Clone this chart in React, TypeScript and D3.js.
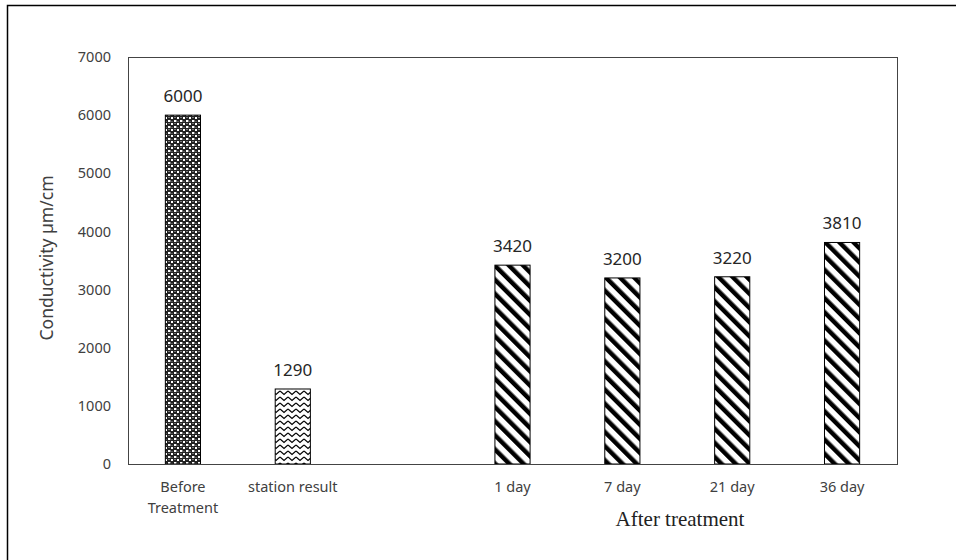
import React from "react";
import * as d3 from "d3";

const categories = ["Before\nTreatment", "station result", "", "1 day", "7 day", "21 day", "36 day"];
const values: (number | null)[] = [6000, 1290, null, 3420, 3200, 3220, 3810];
const patterns = ["checker", "zigzag", "", "stripe", "stripe", "stripe", "stripe"];
const yTicks = [0, 1000, 2000, 3000, 4000, 5000, 6000, 7000];

const W = 956, H = 560;
const margin = { left: 128, top: 57, right: 897, bottom: 464 };

export default function App() {
  const x = d3.scaleBand<number>().domain(d3.range(categories.length)).range([margin.left, margin.right]).paddingInner(0.68).paddingOuter(0.34);
  const y = d3.scaleLinear().domain([0, 7000]).range([margin.bottom, margin.top]);
  const font = "'Noto Sans', sans-serif";
  return (
    <svg width={W} height={H} style={{ position: "absolute", left: 0, top: 0, background: "#fff" }}>
      <defs>
        <pattern id="checker" width="6" height="6" patternUnits="userSpaceOnUse">
          <rect width="6" height="6" fill="#222" />
          <rect x="0" y="0" width="2" height="2" fill="#fff" />
          <rect x="3" y="3" width="2" height="2" fill="#fff" />
          <rect x="2" y="0" width="1" height="2" fill="#777" />
          <rect x="0" y="3" width="2" height="1" fill="#777" />
          <rect x="3" y="1" width="2" height="1" fill="#555" />
        </pattern>
        <pattern id="zigzag" width="8" height="6" patternUnits="userSpaceOnUse">
          <rect width="8" height="6" fill="#fff" />
          <path d="M0,1 L4,4.5 L8,1" fill="none" stroke="#000" strokeWidth="1.2" />
        </pattern>
        <pattern id="stripe" width="10" height="10" patternUnits="userSpaceOnUse" patternTransform="rotate(-45)">
          <rect width="10" height="10" fill="#fff" />
          <rect x="0" y="0" width="4.5" height="10" fill="#000" />
        </pattern>
      </defs>
      <rect x={7.5} y={5.5} width={W + 10} height={H + 10} fill="none" stroke="#000" strokeWidth={1.5} />
      <rect x={margin.left + 0.5} y={margin.top + 0.5} width={margin.right - margin.left} height={margin.bottom - margin.top} fill="none" stroke="#444" strokeWidth={1} />
      {yTicks.map((t) => (
        <text key={t} x={111} y={y(t)} dy="0.35em" textAnchor="end" fontFamily={font} fontSize={14.5} fill="#404040">{t}</text>
      ))}
      {values.map((v, i) => v == null ? null : (
        <g key={i}>
          <rect x={x(i)!} y={y(v)} width={x.bandwidth()} height={y(0) - y(v)} fill={`url(#${patterns[i]})`} stroke="#000" strokeWidth={1} />
          <text x={x(i)! + x.bandwidth() / 2} y={y(v) - 13} textAnchor="middle" fontFamily={font} fontSize={17} fill="#262626">{v}</text>
        </g>
      ))}
      <line x1={margin.left} x2={margin.right} y1={margin.bottom + 0.5} y2={margin.bottom + 0.5} stroke="#444" />
      {categories.map((c, i) => c === "" ? null : (
        <text key={i} x={x(i)! + x.bandwidth() / 2} y={492} textAnchor="middle" fontFamily={font} fontSize={14.5} fill="#404040">
          {c.split("\n").map((s, j) => (
            <tspan key={j} x={x(i)! + x.bandwidth() / 2} dy={j === 0 ? 0 : 21}>{s}</tspan>
          ))}
        </text>
      ))}
      <text transform={`translate(53,258) rotate(-90)`} textAnchor="middle" fontFamily={font} fontSize={17.5} fill="#404040">Conductivity µm/cm</text>
      <text x={680} y={526} textAnchor="middle" fontFamily="'Liberation Serif', 'Times New Roman', serif" fontSize={21} fill="#222">After treatment</text>
    </svg>
  );
}
